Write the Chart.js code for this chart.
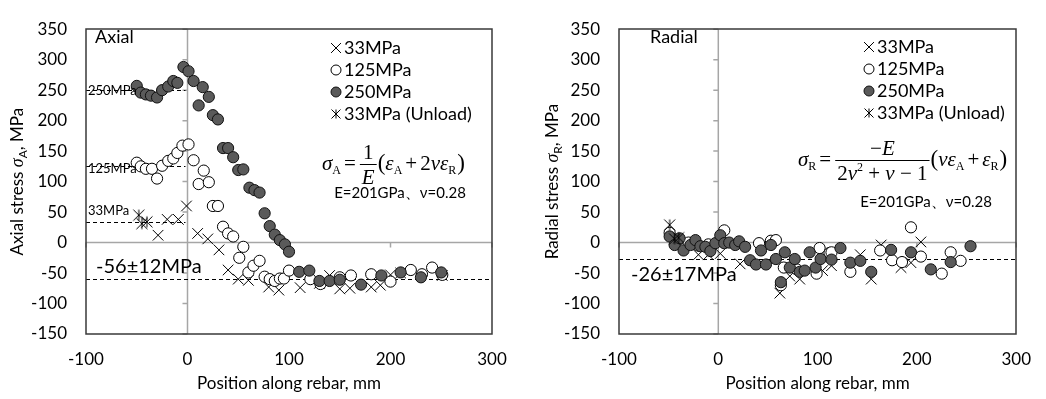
<!DOCTYPE html>
<html><head><meta charset="utf-8">
<script src="https://cdn.jsdelivr.net/npm/chart.js@4.4.1/dist/chart.umd.min.js"></script>
<style>
html,body{margin:0;padding:0;background:#fff;}
#wrap{position:relative;width:1046px;height:399px;overflow:hidden;}
.c{position:absolute;top:0;width:523px;height:399px;}
</style></head><body>
<div id="wrap">
<div class="c" style="left:0"><canvas id="left"></canvas></div>
<div class="c" style="left:523px"><canvas id="right"></canvas></div>
</div>
<script>
// ---------- data ----------
const seriesLabels = ['33MPa', '125MPa', '250MPa', '33MPa (Unload)'];
const xRange = [-100, 300];
const xStep = 100;
const yRange = [-150, 350];
const yStep = 50;
const xTitle = 'Position along rebar, mm';

// Axial chart
const axial33 = [[-29,12],[-20,38],[-9,38],[-1,60],[10,15],[20,6],[31,-12],[40,-45],[50,-60],[60,-62],[80,-73],[90,-78],[111,-74],[130,-67],[140,-54],[150,-76],[160,-75],[181,-73],[190,-70],[200,-53],[210,-50],[251,-54]];
const axial33Unload = [[-48,45],[-45,31],[-40,34]];
const axial125 = [[-50,131],[-46,125],[-41,121],[-35,121],[-30,105],[-25,126],[-19,134],[-14,138],[-10,147],[-5,159],[1,161],[6,135],[11,96],[16,118],[21,99],[25,60],[30,60],[35,26],[40,15],[45,10],[51,-25],[55,-7],[60,-49],[65,-38],[71,-30],[76,-56],[81,-60],[86,-63],[91,-59],[95,-59],[100,-46],[121,-60],[131,-68],[150,-57],[161,-54],[181,-52],[200,-64],[220,-45],[231,-52],[241,-41],[251,-53]];
const axial250 = [[-50,257],[-46,246],[-41,243],[-36,241],[-30,238],[-25,250],[-19,256],[-14,265],[-10,262],[-4,288],[1,281],[6,265],[11,225],[15,255],[21,239],[25,209],[30,202],[35,155],[40,155],[45,140],[50,119],[55,120],[61,90],[66,86],[71,82],[76,48],[81,27],[86,13],[91,4],[96,-3],[100,-15],[110,-48],[120,-46],[130,-63],[140,-63],[150,-61],[171,-69],[191,-54],[210,-49],[230,-57],[250,-49]];
const axialRefLines = [250, 125, 33];
const axialMean = -60;

// Radial chart
const radial33 = [[-20,-20],[-10,-20],[2,-18],[22,-35],[62,-83],[72,-55],[82,-60],[105,-46],[114,-38],[143,-20],[154,-60],[164,-4],[184,-41],[194,-33],[204,1]];
const radial33Unload = [[-49,29],[-44,6],[-40,8]];
const radial125 = [[-49,16],[-40,5],[-30,0],[-20,-5],[-10,-3],[6,20],[41,-1],[53,3],[58,4],[63,-70],[66,-41],[79,-44],[99,-51],[102,-9],[112,-17],[114,-16],[133,-48],[163,-13],[175,-29],[185,-32],[194,25],[204,-23],[225,-51],[234,-16],[244,-30]];
const radial250 = [[-49,10],[-44,-4],[-39,7],[-35,-13],[-28,-4],[-23,4],[-18,-6],[-13,-7],[-8,-14],[-3,-1],[2,12],[6,-1],[11,0],[17,-4],[21,2],[27,-7],[32,-29],[38,-36],[43,-13],[48,-36],[53,-4],[58,-27],[63,-65],[67,-16],[72,-41],[77,-27],[82,-48],[87,-46],[92,-16],[98,-41],[103,-27],[114,-28],[123,-9],[133,-33],[143,-30],[154,-48],[174,-12],[194,-16],[214,-44],[234,-32],[254,-6]];
const radialMean = -27;

// ---------- helpers ----------
const FONT = 'Lato';
const SERIF = '"Liberation Serif", "DejaVu Serif", serif';
const FRAME = '#3a3a3a';
const toPts = a => a.map(p => ({x: p[0], y: p[1]}));

function asterisk(r, lw) {
  const c = document.createElement('canvas');
  const s = Math.ceil(r * 2 + 3);
  c.width = s; c.height = s;
  const g = c.getContext('2d');
  g.strokeStyle = '#000'; g.lineWidth = lw;
  const m = s / 2;
  g.beginPath();
  g.moveTo(m - r, m - r); g.lineTo(m + r, m + r);
  g.moveTo(m + r, m - r); g.lineTo(m - r, m + r);
  g.moveTo(m, m - r); g.lineTo(m, m + r);
  g.stroke();
  return c;
}
const starImg = asterisk(5.5, 1);
const starImgSmall = asterisk(4.5, 1);

function makeDatasets(d33, d125, d250, dUn) {
  return [
    {label: seriesLabels[2], data: toPts(d250), pointStyle: 'circle', pointRadius: 5.6, backgroundColor: '#5a5a5a', borderColor: '#111', borderWidth: 1, order: 1},
    {label: seriesLabels[1], data: toPts(d125), pointStyle: 'circle', pointRadius: 5.6, backgroundColor: '#fff', borderColor: '#000', borderWidth: 1, order: 2},
    {label: seriesLabels[0], data: toPts(d33), pointStyle: 'crossRot', pointRadius: 7.5, backgroundColor: 'rgba(0,0,0,0)', borderColor: '#000', borderWidth: 1, order: 3},
    {label: seriesLabels[3], data: toPts(dUn), pointStyle: starImg, pointRadius: 5.5, borderColor: '#000', borderWidth: 1, order: 0}
  ];
}

function drawRun(ctx, x, y, parts) {
  for (const p of parts) {
    ctx.font = p.f;
    ctx.fillText(p.t, x + (p.dx || 0), y + (p.dy || 0));
    x += ctx.measureText(p.t).width + (p.dx || 0) + (p.after || 0);
  }
  return x;
}
function runWidth(ctx, parts) {
  let w = 0;
  for (const p of parts) { ctx.font = p.f; w += ctx.measureText(p.t).width + (p.dx || 0) + (p.after || 0); }
  return w;
}
function drawFraction(ctx, x, base, num, den, fontH) {
  const wn = runWidth(ctx, num), wd = runWidth(ctx, den);
  const w = Math.max(wn, wd) + 4;
  const barY = base - 6;
  drawRun(ctx, x + (w - wn) / 2, barY - 5, num);
  drawRun(ctx, x + (w - wd) / 2, barY + fontH, den);
  ctx.save(); ctx.lineWidth = 1; ctx.strokeStyle = '#000';
  ctx.beginPath(); ctx.moveTo(x, barY + 0.5); ctx.lineTo(x + w, barY + 0.5); ctx.stroke();
  ctx.restore();
  return x + w;
}

const decoPlugin = {
  id: 'deco',
  beforeDatasetsDraw(chart, args, o) {
    const {ctx, chartArea: a, scales: {x, y}} = chart;
    ctx.save();
    const x0 = x.getPixelForValue(0), y0 = y.getPixelForValue(0);
    ctx.strokeStyle = '#a6a6a6'; ctx.lineWidth = 1.5;
    ctx.beginPath();
    ctx.moveTo(x0, a.top); ctx.lineTo(x0, a.bottom);
    ctx.moveTo(a.left, y0); ctx.lineTo(a.right, y0);
    for (const t of y.ticks) { const py = y.getPixelForValue(t.value); ctx.moveTo(x0 - 5, py); ctx.lineTo(x0, py); }
    for (const t of x.ticks) { const px = x.getPixelForValue(t.value); ctx.moveTo(px, y0); ctx.lineTo(px, y0 + 5); }
    ctx.stroke();
    ctx.strokeStyle = '#000'; ctx.lineWidth = 1; ctx.setLineDash([4, 3]);
    for (const d of o.dashes) {
      const py = Math.round(y.getPixelForValue(d.y)) + 0.5;
      ctx.beginPath();
      ctx.moveTo(x.getPixelForValue(d.x0), py); ctx.lineTo(x.getPixelForValue(d.x1), py);
      ctx.stroke();
    }
    ctx.setLineDash([]);
    ctx.restore();
  },
  afterDraw(chart, args, o) {
    const {ctx, chartArea: a} = chart;
    ctx.save();
    ctx.strokeStyle = FRAME; ctx.lineWidth = 1.5;
    ctx.beginPath();
    ctx.rect(Math.round(a.left), Math.round(a.top), Math.round(a.right - a.left), Math.round(a.bottom - a.top));
    ctx.stroke();
    ctx.fillStyle = '#000'; ctx.textBaseline = 'alphabetic'; ctx.textAlign = 'left';
    ctx.font = '18px ' + FONT;
    ctx.fillText(o.name, o.namePos[0], o.namePos[1]);
    ctx.font = '13px ' + FONT;
    for (const l of o.smallLabels) ctx.fillText(l.t, l.x, l.y);
    ctx.font = '20px ' + FONT;
    ctx.fillText(o.meanLabel, o.meanPos[0], o.meanPos[1]);
    const rows = [2, 1, 0, 3];
    const ds = chart.data.datasets;
    rows.forEach((di, i) => {
      const d = ds[di];
      const ly = o.legendY + i * 22;
      ctx.save();
      ctx.strokeStyle = d.borderColor; ctx.fillStyle = d.backgroundColor || '#000'; ctx.lineWidth = 1;
      let style = d.pointStyle, r = 5;
      if (style === starImg) style = starImgSmall;
      if (style === 'crossRot') r = 7;
      Chart.helpers.drawPoint(ctx, {pointStyle: style, radius: r, rotation: 0, borderWidth: 1}, o.legendX, ly - 6);
      ctx.restore();
      ctx.font = '18px ' + FONT;
      ctx.fillText(d.label, o.legendX + 8, ly);
    });
    o.formula(ctx);
    ctx.font = '15px ' + FONT; ctx.textAlign = 'center';
    ctx.fillText('E=201GPa\u3001\u03bd=0.28', o.eqPos[0], o.eqPos[1]);
    ctx.font = '17px ' + FONT;
    ctx.fillText(xTitle, (a.left + a.right) / 2, 389);
    ctx.textAlign = 'left';
    ctx.save();
    ctx.translate(o.yTitleX, (a.top + a.bottom) / 2);
    ctx.rotate(-Math.PI / 2);
    const w = runWidth(ctx, o.yTitle);
    drawRun(ctx, -w / 2, 6, o.yTitle);
    ctx.restore();
    ctx.restore();
  }
};

function makeChart(id, sets, o) {
  return new Chart(document.getElementById(id), {
    type: 'scatter',
    data: {datasets: sets},
    plugins: [decoPlugin],
    options: {
      responsive: true, maintainAspectRatio: false, animation: false, devicePixelRatio: 1,
      events: [],
      layout: {padding: {left: 0, right: o.padRight, top: o.padTop, bottom: 0}},
      plugins: {legend: {display: false}, tooltip: {enabled: false}, deco: o},
      scales: {
        x: {type: 'linear', min: xRange[0], max: xRange[1],
            ticks: {stepSize: xStep, color: '#000', padding: 15, font: {family: FONT, size: 17}},
            grid: {display: false, drawTicks: false}, border: {display: false},
            afterFit: s => { s.height = 65; }},
        y: {type: 'linear', min: yRange[0], max: yRange[1],
            ticks: {stepSize: yStep, color: '#000', padding: 19, font: {family: FONT, size: 17}},
            grid: {display: false, drawTicks: false}, border: {display: false},
            afterFit: s => { s.width = o.yWidth; }}
      }
    }
  });
}

const SZ = 21;
const it = 'italic ' + SZ + 'px ' + SERIF;
const rm = SZ + 'px ' + SERIF;
const par = '23px ' + SERIF;
const sub = '12px ' + SERIF;

makeChart('left', makeDatasets(axial33, axial125, axial250, axial33Unload), {
  padRight: 31, padTop: 17, yWidth: 86,
  dashes: [
    {y: axialRefLines[0], x0: -100, x1: -2},
    {y: axialRefLines[1], x0: -100, x1: -2},
    {y: axialRefLines[2], x0: -100, x1: -2},
    {y: axialMean, x0: -100, x1: 300}
  ],
  name: 'Axial', namePos: [95, 43],
  smallLabels: [{t: '250MPa', x: 88, y: 95}, {t: '125MPa', x: 88, y: 173}, {t: '33MPa', x: 88, y: 215}],
  meanLabel: '-56\u00b112MPa', meanPos: [96, 273],
  legendX: 336, legendY: 54,
  eqPos: [400, 198],
  yTitleX: 17,
  yTitle: [{t: 'Axial stress ', f: '17px ' + FONT}, {t: '\u03c3', f: 'italic 18px ' + SERIF}, {t: 'A', f: '12px ' + FONT, dy: 4}, {t: ', MPa', f: '17px ' + FONT}],
  formula(ctx) {
    const base = 170;
    let x = drawRun(ctx, 322, base, [{t: '\u03c3', f: it}, {t: 'A', f: sub, dy: 4, after: 3}, {t: '=', f: rm, after: 4}]);
    x = drawFraction(ctx, x, base, [{t: '1', f: rm}], [{t: 'E', f: it}], 20);
    drawRun(ctx, x + 1, base, [{t: '(', f: par}, {t: '\u03b5', f: it}, {t: 'A', f: sub, dy: 4, after: 3}, {t: '+', f: rm, after: 3}, {t: '2', f: rm}, {t: '\u03bd\u03b5', f: it}, {t: 'R', f: sub, dy: 4, after: 1}, {t: ')', f: par}]);
  }
});

makeChart('right', makeDatasets(radial33, radial125, radial250, radial33Unload), {
  padRight: 22, padTop: 19, yWidth: 96,
  dashes: [{y: radialMean, x0: -100, x1: 300}],
  name: 'Radial', namePos: [127, 43],
  smallLabels: [],
  meanLabel: '-26\u00b117MPa', meanPos: [108, 281],
  legendX: 346, legendY: 53,
  eqPos: [403, 207],
  yTitleX: 29,
  yTitle: [{t: 'Radial stress ', f: '17px ' + FONT}, {t: '\u03c3', f: 'italic 18px ' + SERIF}, {t: 'R', f: '12px ' + FONT, dy: 4}, {t: ', MPa', f: '17px ' + FONT}],
  formula(ctx) {
    const base = 166;
    let x = drawRun(ctx, 275, base, [{t: '\u03c3', f: it}, {t: 'R', f: sub, dy: 4, after: 3}, {t: '=', f: rm, after: 4}]);
    x = drawFraction(ctx, x, base, [{t: '\u2212', f: rm}, {t: 'E', f: it}], [{t: '2', f: rm}, {t: '\u03bd', f: it}, {t: '2', f: '12px ' + SERIF, dy: -9}, {t: ' + ', f: rm}, {t: '\u03bd', f: it}, {t: ' \u2212 1', f: rm}], 20);
    drawRun(ctx, x + 1, base, [{t: '(', f: par}, {t: '\u03bd\u03b5', f: it}, {t: 'A', f: sub, dy: 4, after: 3}, {t: '+', f: rm, after: 3}, {t: '\u03b5', f: it}, {t: 'R', f: sub, dy: 4, after: 1}, {t: ')', f: par}]);
  }
});
</script>
</body></html>
